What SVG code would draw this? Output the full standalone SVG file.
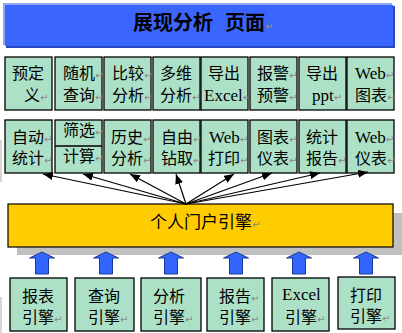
<svg xmlns="http://www.w3.org/2000/svg" width="402" height="333" viewBox="0 0 402 333">
<defs>
<style>
text{font-family:"Liberation Serif","Noto Sans CJK SC",serif;font-size:16px;fill:#000}
.box{fill:#ADE1C7;stroke:#000;stroke-width:1.3}
.rt{fill:#888;font-size:10px;font-family:"DejaVu Sans",sans-serif}
.con line{stroke:#000;stroke-width:1.2;marker-end:url(#ah)}
.blk{fill:#3366FF;stroke:#1A3A99;stroke-width:1}
</style>
<marker id="ah" viewBox="0 0 10 8" refX="10" refY="4" markerWidth="10" markerHeight="8" markerUnits="userSpaceOnUse" orient="auto">
<path d="M0,0 L10,4 L0,8 Z" fill="#000"/>
</marker>
</defs>
<rect width="402" height="333" fill="#fff"/>
<rect x="0" y="140" width="2" height="42" fill="#D6D6D6"/>
<rect x="0" y="297" width="2" height="36" fill="#D6D6D6"/>

<g id="title">
<rect x="3" y="3" width="389" height="42" fill="#90A8F2"/>
<rect x="6" y="6" width="389" height="42" fill="#2848C0"/>
<rect x="5" y="5" width="388" height="41" fill="#3A66FF"/>
<text x="133" y="30" style="font-size:20px;font-weight:bold">展现分析 <tspan x="225">页面</tspan><tspan class="rt">↵</tspan></text>
</g>

<g id="r1n1"><rect class="box" x="5" y="57" width="47" height="53"/><text x="12" y="79">预定</text><text x="24" y="101">义<tspan class="rt">↵</tspan></text></g>
<g id="r1n2"><rect class="box" x="55" y="57" width="47" height="53"/><text x="63" y="79">随机<tspan class="rt">↵</tspan></text><text x="63" y="101">查询<tspan class="rt">↵</tspan></text></g>
<g id="r1n3"><rect class="box" x="104" y="57" width="47" height="53"/><text x="112" y="79">比较<tspan class="rt">↵</tspan></text><text x="112" y="101">分析<tspan class="rt">↵</tspan></text></g>
<g id="r1n4"><rect class="box" x="153" y="57" width="47" height="53"/><text x="160" y="79">多维</text><text x="160" y="101">分析<tspan class="rt">↵</tspan></text></g>
<g id="r1n5"><rect class="box" x="201" y="57" width="47" height="53"/><text x="208" y="79">导出</text><text x="204" y="101" style="font-size:17px">Excel<tspan class="rt">↵</tspan></text></g>
<g id="r1n6"><rect class="box" x="250" y="57" width="47" height="53"/><text x="257" y="79">报警<tspan class="rt">↵</tspan></text><text x="257" y="101">预警<tspan class="rt">↵</tspan></text></g>
<g id="r1n7"><rect class="box" x="299" y="57" width="47" height="53"/><text x="306" y="79">导出</text><text x="312" y="101" style="font-size:17px">ppt<tspan class="rt">↵</tspan></text></g>
<g id="r1n8"><rect class="box" x="347" y="57" width="47" height="53"/><text x="355" y="79" style="font-size:17px">Web<tspan class="rt">↵</tspan></text><text x="355" y="101">图表<tspan class="rt">↵</tspan></text></g>

<g id="r2n1"><rect class="box" x="5" y="120" width="47" height="53"/><text x="12" y="143">自动<tspan class="rt">↵</tspan></text><text x="12" y="164">统计<tspan class="rt">↵</tspan></text></g>
<g id="r2n2"><rect class="box" x="55" y="120" width="47" height="53"/><line x1="55" y1="146" x2="102" y2="146" stroke="#000" stroke-width="1.3"/><text x="63" y="136">筛选<tspan class="rt">↵</tspan></text><text x="63" y="162">计算<tspan class="rt">↵</tspan></text></g>
<g id="r2n3"><rect class="box" x="104" y="120" width="47" height="53"/><text x="111" y="143">历史<tspan class="rt">↵</tspan></text><text x="111" y="164">分析<tspan class="rt">↵</tspan></text></g>
<g id="r2n4"><rect class="box" x="153" y="120" width="47" height="53"/><text x="161" y="143">自由<tspan class="rt">↵</tspan></text><text x="161" y="164">钻取<tspan class="rt">↵</tspan></text></g>
<g id="r2n5"><rect class="box" x="201" y="120" width="47" height="53"/><text x="209" y="143" style="font-size:17px">Web<tspan class="rt">↵</tspan></text><text x="208" y="164">打印<tspan class="rt">↵</tspan></text></g>
<g id="r2n6"><rect class="box" x="250" y="120" width="47" height="53"/><text x="257" y="143">图表<tspan class="rt">↵</tspan></text><text x="257" y="164">仪表<tspan class="rt">↵</tspan></text></g>
<g id="r2n7"><rect class="box" x="299" y="120" width="47" height="53"/><text x="306" y="143">统计</text><text x="306" y="164">报告<tspan class="rt">↵</tspan></text></g>
<g id="r2n8"><rect class="box" x="347" y="120" width="47" height="53"/><text x="355" y="143" style="font-size:17px">Web<tspan class="rt">↵</tspan></text><text x="355" y="164">仪表<tspan class="rt">↵</tspan></text></g>

<g id="portal">
<rect x="17" y="213" width="390" height="42" fill="#C0C0C0"/>
<rect x="8" y="204" width="385" height="43" fill="#FFCC00" stroke="#000" stroke-width="1.2"/>
<text x="150" y="228" style="font-size:17px">个人门户引擎<tspan class="rt">↵</tspan></text>
</g>

<g id="connectors" class="con">
<line x1="186" y1="204" x2="43" y2="174"/>
<line x1="186" y1="204" x2="83" y2="174"/>
<line x1="186" y1="204" x2="130" y2="174"/>
<line x1="186" y1="204" x2="176" y2="174"/>
<line x1="186" y1="204" x2="234" y2="174"/>
<line x1="186" y1="204" x2="272" y2="173"/>
<line x1="186" y1="204" x2="320" y2="173"/>
<line x1="186" y1="204" x2="368" y2="172"/>
<path class="blk" d="M42,252 L54.5,258 L48.5,258 L48.5,274 L35.5,274 L35.5,258 L29.5,258 Z"/>
<path class="blk" d="M106,252 L118.5,258 L112.5,258 L112.5,274 L99.5,274 L99.5,258 L93.5,258 Z"/>
<path class="blk" d="M171,252 L183.5,258 L177.5,258 L177.5,274 L164.5,274 L164.5,258 L158.5,258 Z"/>
<path class="blk" d="M236,252 L248.5,258 L242.5,258 L242.5,274 L229.5,274 L229.5,258 L223.5,258 Z"/>
<path class="blk" d="M299,252 L311.5,258 L305.5,258 L305.5,274 L292.5,274 L292.5,258 L286.5,258 Z"/>
<path class="blk" d="M366,252 L378.5,258 L372.5,258 L372.5,274 L359.5,274 L359.5,258 L353.5,258 Z"/>
</g>

<g id="e1"><rect class="box" x="10" y="278" width="57" height="53"/><text x="22" y="302">报表</text><text x="22" y="323">引擎<tspan class="rt">↵</tspan></text></g>
<g id="e2"><rect class="box" x="75" y="278" width="59" height="53"/><text x="88" y="302">查询</text><text x="88" y="323">引擎<tspan class="rt">↵</tspan></text></g>
<g id="e3"><rect class="box" x="141" y="278" width="60" height="53"/><text x="153" y="302">分析</text><text x="153" y="323">引擎<tspan class="rt">↵</tspan></text></g>
<g id="e4"><rect class="box" x="207" y="278" width="57" height="53"/><text x="219" y="302">报告<tspan class="rt">↵</tspan></text><text x="219" y="323">引擎<tspan class="rt">↵</tspan></text></g>
<g id="e5"><rect class="box" x="272" y="278" width="57" height="53"/><text x="282" y="300" style="font-size:17px">Excel</text><text x="285" y="323">引擎<tspan class="rt">↵</tspan></text></g>
<g id="e6"><rect class="box" x="338" y="277" width="57" height="52"/><text x="350" y="301">打印</text><text x="350" y="322">引擎<tspan class="rt">↵</tspan></text></g>
</svg>
